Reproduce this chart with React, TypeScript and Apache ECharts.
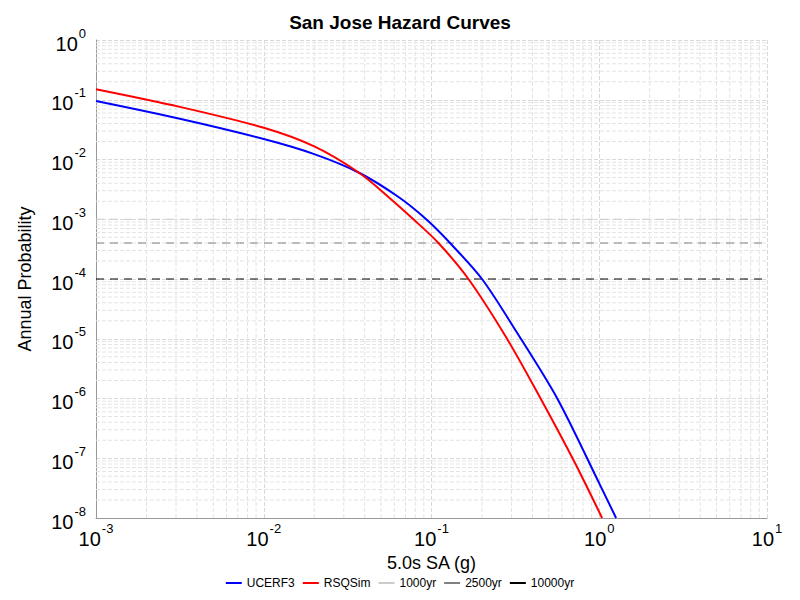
import { useEffect, useRef } from 'react';
import * as echarts from 'echarts';

const ucerf3X = [0.001, 0.00316, 0.01, 0.02, 0.037, 0.063, 0.093, 0.129, 0.2, 0.316, 0.562, 1.0, 1.26];
const ucerf3Y = [0.095, 0.048, 0.022, 0.0123, 0.006, 0.0024, 0.001, 4e-4, 1e-4, 1.4e-5, 1e-6, 3.8e-8, 1e-8];
const rsqsimX = [0.001, 0.00316, 0.01, 0.02, 0.037, 0.056, 0.078, 0.11, 0.166, 0.282, 0.447, 0.708, 1.04];
const rsqsimY = [0.15, 0.076, 0.034, 0.0166, 0.006, 0.0023, 0.001, 4e-4, 1e-4, 1e-5, 1e-6, 8.9e-8, 1e-8];

const levels = [
    { name: '1000yr', value: 1e-3, color: '#cccccc' },
    { name: '2500yr', value: 4e-4, color: '#808080' },
    { name: '10000yr', value: 1e-4, color: '#000000' },
];

const xDecades = [-3, -2, -1, 0];
const yDecades = [-8, -7, -6, -5, -4, -3, -2, -1];
const minorSteps = [2, 3, 4, 5, 6, 7, 8, 9];

const supLabel = (v: number) => `{b|10}{s|${Math.round(Math.log10(v))}}`;
const rich = {
    b: { fontSize: 20, fontFamily: 'Liberation Sans', color: '#000', verticalAlign: 'bottom' as const },
    s: { fontSize: 13, fontFamily: 'Liberation Sans', color: '#000', padding: [0, 0, 14, 1], verticalAlign: 'bottom' as const },
};

export default function App() {
    const ref = useRef<HTMLDivElement>(null);

    useEffect(() => {
        if (!ref.current) return;
        const chart = echarts.init(ref.current, null, { renderer: 'svg' });

        const gridStyle = { color: '#e4e4e4', width: 1, type: 'dashed' as const };
        const gridSeries: any[] = [];
        xDecades.forEach((d) =>
            minorSteps.forEach((m) => {
                const x = m * Math.pow(10, d);
                gridSeries.push({
                    type: 'line', silent: true, symbol: 'none', lineStyle: gridStyle,
                    data: [[x, 1e-8], [x, 1]],
                });
            })
        );
        yDecades.forEach((d) =>
            minorSteps.forEach((m) => {
                const y = m * Math.pow(10, d);
                gridSeries.push({
                    type: 'line', silent: true, symbol: 'none', lineStyle: gridStyle,
                    data: [[0.001, y], [10, y]],
                });
            })
        );

        chart.setOption({
            animation: false,
            title: {
                text: 'San Jose Hazard Curves',
                left: 'center',
                top: 0,
                textStyle: { fontSize: 19, fontWeight: 'bold', fontFamily: 'Liberation Sans', color: '#000' },
            },
            legend: {
                bottom: 6,
                data: ['UCERF3', 'RSQSim', ...levels.map((l) => l.name)],
                itemWidth: 16,
                itemHeight: 2,
                itemGap: 8,
                icon: 'rect',
                textStyle: { fontSize: 12, fontFamily: 'Liberation Sans', color: '#000' },
            },
            grid: { left: 72, right: 25, top: 32, bottom: 82 },
            xAxis: {
                type: 'log',
                min: 0.001,
                max: 10,
                name: '5.0s SA (g)',
                nameLocation: 'middle',
                nameGap: 32,
                nameTextStyle: { fontSize: 18, fontFamily: 'Liberation Sans', color: '#000' },
                axisLine: { lineStyle: { color: '#999' } },
                axisTick: { show: false },
                axisLabel: { formatter: supLabel, rich, margin: 4 },
                splitLine: { show: true, lineStyle: { color: '#d8d8d8', type: 'dashed' } },
            },
            yAxis: {
                type: 'log',
                min: 1e-8,
                max: 1,
                name: 'Annual Probability',
                nameLocation: 'middle',
                nameGap: 62,
                nameTextStyle: { fontSize: 18, fontFamily: 'Liberation Sans', color: '#000' },
                axisLine: { show: true, lineStyle: { color: '#999' } },
                axisTick: { show: false },
                axisLabel: { formatter: supLabel, rich, margin: 10 },
                splitLine: { show: true, lineStyle: { color: '#d8d8d8', type: 'dashed' } },
            },
            series: [
                ...gridSeries,
                ...levels.map((l) => ({
                    name: l.name,
                    type: 'line',
                    symbol: 'none',
                    itemStyle: { color: l.color },
                    lineStyle: { color: l.color, width: 1, type: [8, 6] },
                    data: [[0.001, l.value], [10, l.value]],
                })),
                {
                    name: 'UCERF3',
                    type: 'line',
                    smooth: 0.3,
                    symbol: 'none',
                    itemStyle: { color: '#0000ff' },
                    lineStyle: { color: '#0000ff', width: 2 },
                    data: ucerf3X.map((x, i) => [x, ucerf3Y[i]]),
                },
                {
                    name: 'RSQSim',
                    type: 'line',
                    smooth: 0.3,
                    symbol: 'none',
                    itemStyle: { color: '#ff0000' },
                    lineStyle: { color: '#ff0000', width: 2 },
                    data: rsqsimX.map((x, i) => [x, rsqsimY[i]]),
                },
            ],
        });

        return () => chart.dispose();
    }, []);

    return <div ref={ref} style={{ width: 784, height: 592 }} />;
}
